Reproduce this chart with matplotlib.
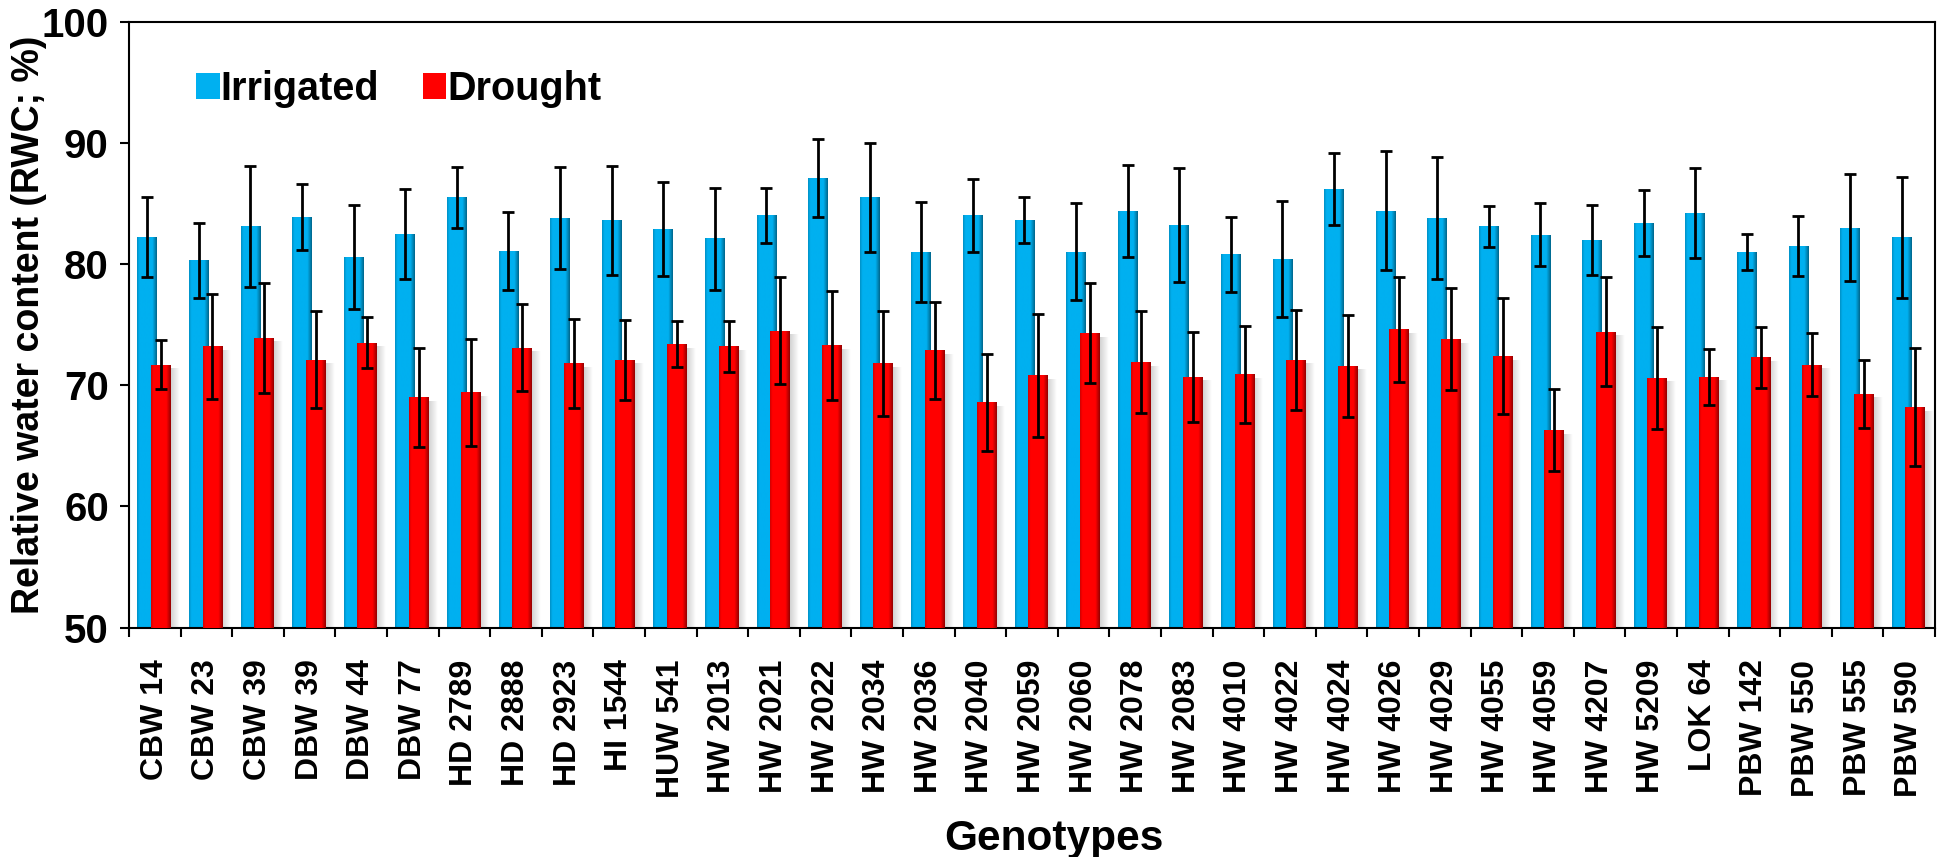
import numpy as np
import matplotlib.pyplot as plt
from matplotlib.colors import to_rgb

# genotypes and RWC values (mean and SD)
genotypes = ["CBW 14", "CBW 23", "CBW 39", "DBW 39", "DBW 44", "DBW 77", "HD 2789",
             "HD 2888", "HD 2923", "HI 1544", "HUW 541", "HW 2013", "HW 2021", "HW 2022",
             "HW 2034", "HW 2036", "HW 2040", "HW 2059", "HW 2060", "HW 2078", "HW 2083",
             "HW 4010", "HW 4022", "HW 4024", "HW 4026", "HW 4029", "HW 4055", "HW 4059",
             "HW 4207", "HW 5209", "LOK 64", "PBW 142", "PBW 550", "PBW 555", "PBW 590"]
irrigated = [82.2, 80.3, 83.1, 83.9, 80.6, 82.5, 85.5, 81.1, 83.8, 83.6, 82.9, 82.1, 84.0,
             87.1, 85.5, 81.0, 84.0, 83.6, 81.0, 84.4, 83.2, 80.8, 80.4, 86.2, 84.4, 83.8,
             83.1, 82.4, 82.0, 83.4, 84.2, 81.0, 81.5, 83.0, 82.2]
irrigated_sd = [3.3, 3.1, 5.0, 2.7, 4.3, 3.7, 2.5, 3.2, 4.2, 4.5, 3.9, 4.2, 2.3, 3.2, 4.5,
                4.1, 3.0, 1.9, 4.0, 3.8, 4.7, 3.1, 4.8, 3.0, 4.9, 5.0, 1.7, 2.6, 2.9, 2.7,
                3.7, 1.5, 2.5, 4.4, 5.0]
drought = [71.7, 73.2, 73.9, 72.1, 73.5, 69.0, 69.4, 73.1, 71.8, 72.1, 73.4, 73.2, 74.5,
           73.3, 71.8, 72.9, 68.6, 70.8, 74.3, 71.9, 70.7, 70.9, 72.1, 71.6, 74.6, 73.8,
           72.4, 66.3, 74.4, 70.6, 70.7, 72.3, 71.7, 69.3, 68.2]
drought_sd = [2.0, 4.3, 4.5, 4.0, 2.1, 4.1, 4.4, 3.6, 3.7, 3.3, 1.9, 2.1, 4.4, 4.5, 4.3,
              4.0, 4.0, 5.1, 4.1, 4.2, 3.7, 4.0, 4.1, 4.2, 4.3, 4.2, 4.8, 3.4, 4.5, 4.2,
              2.3, 2.5, 2.6, 2.8, 4.9]

plt.rcParams['font.family'] = ['Liberation Sans', 'DejaVu Sans']
plt.rcParams['font.weight'] = 'bold'

blue = "#00B0F0"
red = "#FF0000"
width = 0.383

fig = plt.figure(figsize=(19.37, 8.57), dpi=100)
ax = fig.add_axes([0.0666, 0.2676, 0.9324, 0.7071])

x = np.arange(len(genotypes))
b1 = ax.bar(x - 0.147, irrigated, width, color=blue, zorder=2, label="Irrigated")
b2 = ax.bar(x + 0.118, drought, width, color=red, zorder=3, label="Drought")


def shade_bar(patch, base, z):
    # cylinder-like shading across the bar width
    x0 = patch.get_x()
    x1 = x0 + patch.get_width()
    h = patch.get_height()
    t = np.linspace(0, 1, 64)
    s = np.ones_like(t)
    s = np.where(t < 0.12, 0.82 + 0.18 * t / 0.12, s)
    s = np.where(t > 0.78, 1 - 0.42 * (t - 0.78) / 0.22, s)
    rgb = np.array(to_rgb(base))
    img = (rgb[None, :] * s[:, None])[None, :, :]
    ax.imshow(img, extent=[x0, x1, 50, h], aspect='auto', zorder=z, interpolation='bilinear')
    patch.set_visible(False)


def shadow(patch, z):
    x1 = patch.get_x() + patch.get_width()
    h = patch.get_height()
    img = np.zeros((1, 32, 4))
    img[..., 0:3] = 0.45
    img[..., 3] = np.linspace(0.32, 0.0, 32)
    ax.imshow(img, extent=[x1, x1 + 0.17, 50, h - 0.3], aspect='auto', zorder=z,
              interpolation='bilinear')


for p in b2:
    shadow(p, 1.5)
for p in b1:
    shade_bar(p, blue, 2)
for p in b2:
    shade_bar(p, red, 3)

ax.errorbar(x - 0.147, irrigated, yerr=irrigated_sd, fmt='none', ecolor='black',
            elinewidth=2.0, capsize=4.5, capthick=2.0, zorder=4)
ax.errorbar(x + 0.118, drought, yerr=drought_sd, fmt='none', ecolor='black',
            elinewidth=2.0, capsize=4.5, capthick=2.0, zorder=4)

ax.set_xlim(-0.5, len(genotypes) - 0.5)
ax.set_ylim(50, 100)
ax.set_yticks([50, 60, 70, 80, 90, 100])
ax.tick_params(axis='y', direction='out', length=6.5, width=1.5, labelsize=29, pad=8)
ax.set_xticks(x)
ax.set_xticklabels(genotypes, rotation=90, fontsize=23, fontweight='bold')
ax.tick_params(axis='x', which='major', length=0, pad=23)
ax.set_xticks(np.arange(-0.5, len(genotypes), 1.0), minor=True)
ax.tick_params(axis='x', which='minor', direction='out', length=6.5, width=1.5)
for sp in ax.spines.values():
    sp.set_linewidth(1.5)

leg = ax.legend(handles=[b1[0], b2[0]], labels=["Irrigated", "Drought"], loc='center left',
                bbox_to_anchor=(0.037, 0.889), ncol=2, frameon=False, fontsize=28.5,
                handlelength=0.6, handleheight=0.6, handletextpad=0.02, columnspacing=1.1,
                borderpad=0, borderaxespad=0)
for h, c in zip(leg.legend_handles, [blue, red]):
    h.set_visible(True)
    h.set_facecolor(c)

fig.text(0.015, 0.5 * (0.2676 + 0.9747), "Relative water content (RWC; %)", rotation=90,
         ha='center', va='center', fontsize=27, fontweight='bold')
fig.text(0.544, 0.021, "Genotypes", ha='center', va='center', fontsize=30.5, fontweight='bold')

fig.savefig("out.png", dpi=100)
